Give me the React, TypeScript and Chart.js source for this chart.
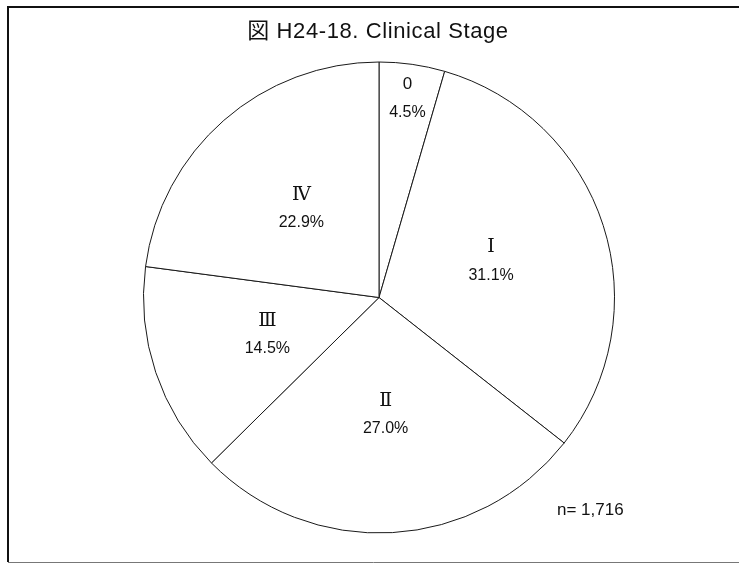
import React, { useEffect, useRef } from "react";
import { Chart, registerables } from "chart.js";

Chart.register(...registerables);

const TITLE = "図 H24-18. Clinical Stage";
const stages = ["0", "Ⅰ", "Ⅱ", "Ⅲ", "Ⅳ"];
const percents = [4.5, 31.1, 27.0, 14.5, 22.9];
const sampleNote = "n= 1,716";

const W = 739;
const H = 563;

export default function App() {
  const ref = useRef<HTMLCanvasElement>(null);

  useEffect(() => {
    const canvas = ref.current;
    if (!canvas) return;

    const framePlugin = {
      id: "frame",
      beforeDraw(chart: any) {
        const ctx = chart.ctx;
        ctx.save();
        ctx.fillStyle = "#ffffff";
        ctx.fillRect(0, 0, W, H);
        ctx.strokeStyle = "#111111";
        ctx.lineWidth = 2;
        ctx.beginPath();
        ctx.moveTo(8, 562);
        ctx.lineTo(8, 7);
        ctx.lineTo(W, 7);
        ctx.stroke();
        ctx.strokeStyle = "#777777";
        ctx.lineWidth = 1;
        ctx.beginPath();
        ctx.moveTo(8, 562.5);
        ctx.lineTo(W, 562.5);
        ctx.stroke();
        ctx.restore();
      },
      afterDraw(chart: any) {
        const ctx = chart.ctx;
        ctx.save();
        ctx.fillStyle = "#111111";
        ctx.textBaseline = "middle";
        ctx.textAlign = "center";
        ctx.font = '22px "Liberation Sans", "Noto Sans CJK JP", sans-serif';
        (ctx as any).letterSpacing = "0.6px";
        ctx.fillText(TITLE, 378, 32);
        (ctx as any).letterSpacing = "0px";
        ctx.textAlign = "left";
        ctx.font = '17px "Liberation Sans", sans-serif';
        ctx.fillText(sampleNote, 557, 510);
        ctx.restore();
      },
    };

    const labelPlugin = {
      id: "sliceLabels",
      afterDatasetsDraw(chart: any) {
        const ctx = chart.ctx;
        const meta = chart.getDatasetMeta(0);
        ctx.save();
        ctx.fillStyle = "#111111";
        ctx.textAlign = "center";
        ctx.textBaseline = "middle";
        meta.data.forEach((arc: any, i: number) => {
          const { x, y, startAngle, endAngle, outerRadius } = arc.getProps(
            ["x", "y", "startAngle", "endAngle", "outerRadius"],
            true
          );
          const mid = (startAngle + endAngle) / 2;
          const f = percents[i] < 10 ? 0.855 : 0.5;
          const cx = x + Math.cos(mid) * outerRadius * f;
          const cy = y + Math.sin(mid) * outerRadius * f;
          ctx.font =
            i === 0
              ? '17px "Liberation Sans", sans-serif'
              : '19px "DejaVu Serif", "Liberation Serif", serif';
          ctx.fillText(stages[i], cx, cy - 14);
          ctx.font = '16px "Liberation Sans", sans-serif';
          ctx.fillText(percents[i].toFixed(1) + "%", cx, cy + 14);
        });
        ctx.restore();
      },
    };

    const chart = new Chart(canvas, {
      type: "pie",
      data: {
        labels: stages,
        datasets: [
          {
            data: percents,
            backgroundColor: "#ffffff",
            borderColor: "#1a1a1a",
            borderWidth: 1,
            radius: 235.5,
          },
        ],
      },
      options: {
        responsive: false,
        animation: false,
        events: [],
        layout: { padding: { left: 19, right: 0, top: 32, bottom: 0 } },
        plugins: {
          legend: { display: false },
          tooltip: { enabled: false },
          title: { display: false },
        },
      },
      plugins: [framePlugin, labelPlugin],
    });

    return () => chart.destroy();
  }, []);

  return (
    <canvas
      ref={ref}
      width={W}
      height={H}
      style={{ position: "fixed", left: 0, top: 0, width: W, height: H, display: "block" }}
    />
  );
}
